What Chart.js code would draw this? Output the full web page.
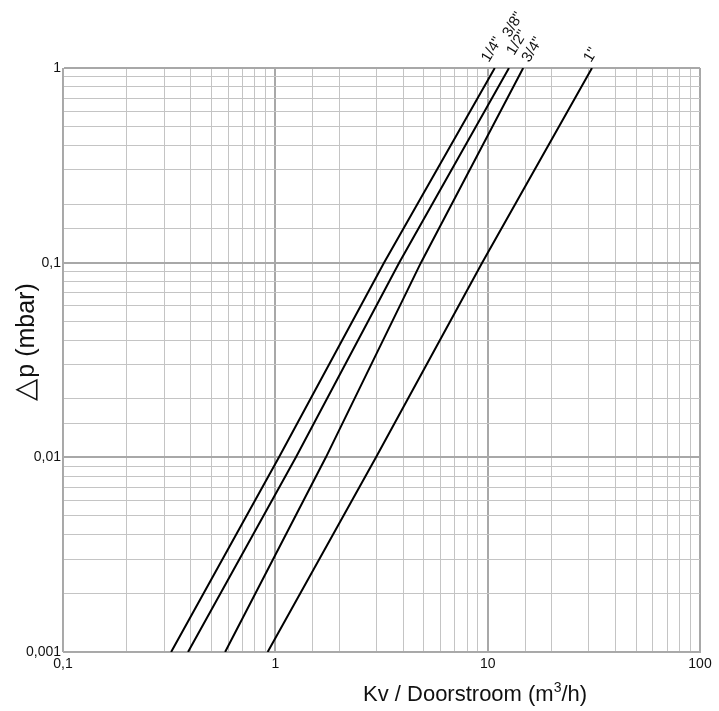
<!DOCTYPE html>
<html lang="nl">
<head>
    <meta charset="UTF-8">
    <title>Drukverlies</title>
    <style>
        body { margin: 0; background: #fff; }
        canvas { display: block; }
    </style>
</head>
<body>
    <canvas id="myChart" width="719" height="711"></canvas>
    <script src="https://cdn.jsdelivr.net/npm/chart.js"></script>
    <script>
        const dpLevels = [0.001, 0.01, 0.1, 1];

        // doorstroom (m3/h) per lijn bij bovenstaande niveaus
        const flowLine1 = [0.323, 1.04, 3.25, 10.8];
        const flowLine2 = [0.388, 1.25, 3.83, 12.6];
        const flowLine3 = [0.58, 1.73, 4.85, 14.7];
        const flowLine4 = [0.92, 2.98, 9.42, 31.0];

        // labels bij de lijnen (index = welke lijn)
        const sizeLabels = ['1/4"', '3/8"', '1/2"', '3/4"', '1"'];
        const sizeLabelLine = [0, 1, 1, 2, 3];

        const xTicks = [0.1, 1, 10, 100];
        const yTicks = [0.001, 0.01, 0.1, 1];

        const lines = [flowLine1, flowLine2, flowLine3, flowLine4];

        function komma(v) {
            return String(v).replace('.', ',');
        }

        function isDecade(v) {
            const l = Math.log10(v);
            return Math.abs(l - Math.round(l)) < 1e-9;
        }

        const FONT = '"Liberation Sans", Arial, sans-serif';

        // extra tekst: astitels en maatlabels
        const tekstPlugin = {
            id: 'tekst',
            afterDraw(chart) {
                const c = chart.ctx;
                const xs = chart.scales.x;
                const ys = chart.scales.y;
                c.save();
                c.fillStyle = '#111';

                // x-as titel
                c.font = '22px ' + FONT;
                c.textBaseline = 'alphabetic';
                c.textAlign = 'left';
                let tx = 363, ty = 701;
                c.fillText('Kv / Doorstroom (m', tx, ty);
                tx += c.measureText('Kv / Doorstroom (m').width;
                c.font = '14px ' + FONT;
                c.fillText('3', tx, ty - 9);
                tx += c.measureText('3').width;
                c.font = '22px ' + FONT;
                c.fillText('/h)', tx, ty);

                // y-as titel (driehoek iets groter)
                c.save();
                c.translate(34, 401);
                c.rotate(-Math.PI / 2);
                c.textAlign = 'left';
                c.font = '29px "DejaVu Sans", ' + FONT;
                c.fillText('\u25B3', 0, 0);
                let w = c.measureText('\u25B3').width;
                c.font = '25px ' + FONT;
                c.fillText('p (mbar)', w + 1, 0);
                c.restore();

                // maatlabels
                const offsets = [[-6, -5], [1, -30], [5, -12], [6, -5], [-1, -5]];
                c.font = '15px ' + FONT;
                c.textAlign = 'left';
                c.textBaseline = 'alphabetic';
                sizeLabels.forEach((lab, i) => {
                    const serie = lines[sizeLabelLine[i]];
                    const px = xs.getPixelForValue(serie[serie.length - 1]);
                    const py = ys.getPixelForValue(dpLevels[dpLevels.length - 1]);
                    c.save();
                    c.translate(px + offsets[i][0], py + offsets[i][1]);
                    c.rotate(-59 * Math.PI / 180);
                    c.fillText(lab, 0, 0);
                    c.restore();
                });
                c.restore();
            }
        };

        const ctx = document.getElementById('myChart');

        new Chart(ctx, {
            type: 'line',
            data: {
                datasets: lines.map(serie => ({
                    data: serie.map((q, i) => ({ x: q, y: dpLevels[i] })),
                    borderColor: '#000',
                    borderWidth: 2,
                    pointRadius: 0,
                    fill: false,
                    tension: 0
                }))
            },
            options: {
                responsive: false,
                devicePixelRatio: 1,
                animation: false,
                layout: { padding: { top: 68, right: 19, left: 0, bottom: 0 } },
                plugins: {
                    legend: { display: false },
                    tooltip: { enabled: false }
                },
                scales: {
                    x: {
                        type: 'logarithmic',
                        min: 0.1,
                        max: 100,
                        afterFit(axis) { axis.height = 59; },
                        border: { color: '#aaa' },
                        grid: {
                            drawTicks: false,
                            color: ctx => isDecade(ctx.tick.value) ? '#a8a8a8' : '#c4c4c4',
                            lineWidth: ctx => isDecade(ctx.tick.value) ? 2 : 1
                        },
                        ticks: {
                            autoSkip: false,
                            maxRotation: 0,
                            padding: 4,
                            color: '#111',
                            font: { family: FONT, size: 14 },
                            callback: v => xTicks.some(t => Math.abs(t - v) < 1e-9) ? komma(v) : ''
                        }
                    },
                    y: {
                        type: 'logarithmic',
                        min: 0.001,
                        max: 1,
                        afterFit(axis) { axis.width = 63; },
                        border: { color: '#aaa' },
                        grid: {
                            drawTicks: false,
                            color: ctx => isDecade(ctx.tick.value) ? '#a8a8a8' : '#c4c4c4',
                            lineWidth: ctx => isDecade(ctx.tick.value) ? 2 : 1
                        },
                        ticks: {
                            autoSkip: false,
                            padding: 2,
                            color: '#111',
                            font: { family: FONT, size: 14 },
                            callback: v => yTicks.some(t => Math.abs(t - v) < 1e-12) ? komma(v) : ''
                        }
                    }
                }
            },
            plugins: [tekstPlugin]
        });
    </script>
</body>
</html>
